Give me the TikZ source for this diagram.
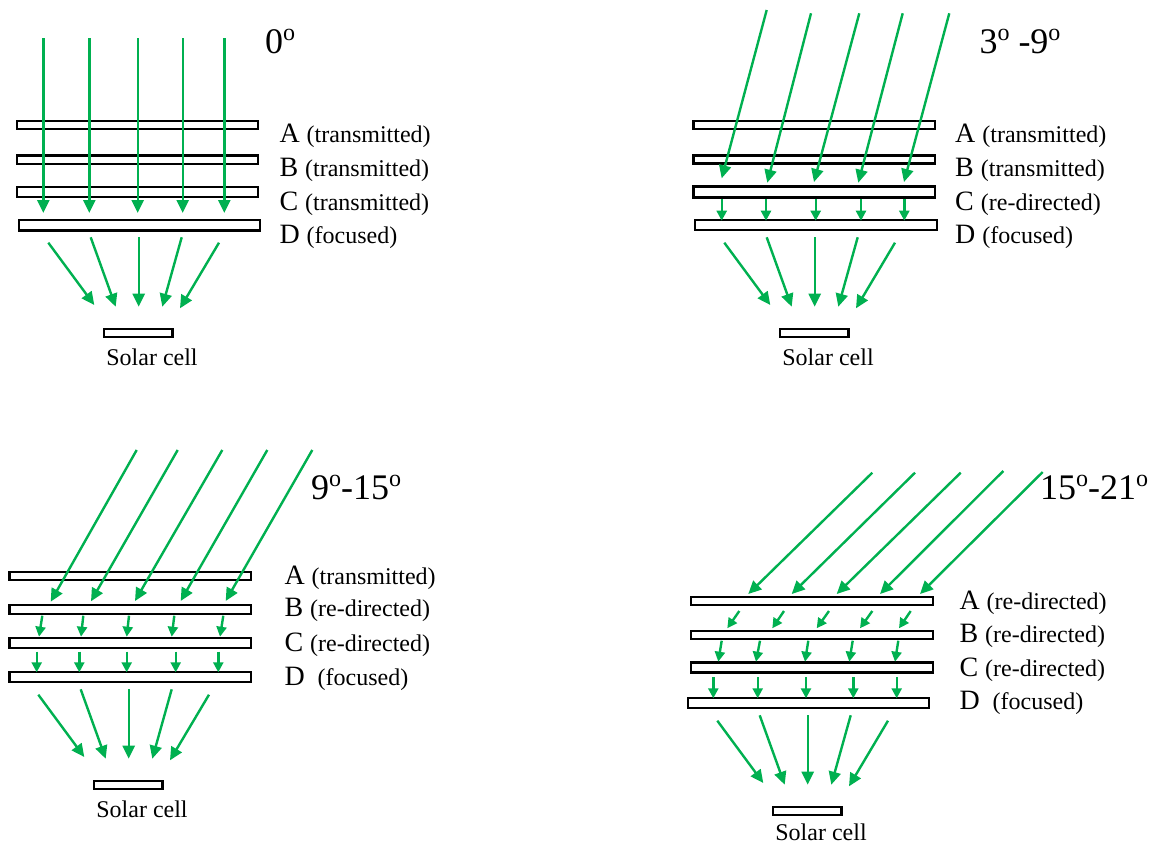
\documentclass[tikz,border=0pt]{standalone}
\usepackage{fontspec}
\setmainfont{Liberation Serif}
\usetikzlibrary{arrows.meta}
\definecolor{ray}{RGB}{0,176,80}
\tikzset{
  plate/.style={draw=black,line width=2.5pt,fill=white},
  cellbox/.style={draw=black,line width=2.2pt,fill=white},
  longray/.style={draw=ray,line width=2.4pt,-{Triangle[length=13pt,width=12pt]}},
  shortray/.style={draw=ray,line width=2.4pt,-{Triangle[length=10pt,width=10pt]}},
  big/.style={inner sep=0pt,anchor=base west,font=\fontsize{28}{32}\selectfont},
  title/.style={inner sep=0pt,anchor=base west,font=\fontsize{36}{40}\selectfont},
  celltext/.style={inner sep=0pt,anchor=base,font=\fontsize{24}{28}\selectfont}
}
\newcommand{\smalltxt}[1]{{\fontsize{24}{28}\selectfont #1}}
\newcommand{\supo}{\raisebox{12.5pt}{\fontsize{24}{28}\selectfont o}}
\newcommand{\FocusGroup}[2]{%
  \draw[longray] (48.3,242.7) -- (94.3,305);
  \draw[longray] (90.7,237.3) -- (115.7,306.7);
  \draw[longray] (138.7,237) -- (138.7,306.7);
  \draw[longray] (181.7,237.3) -- (162.3,306.7);
  \draw[longray] (219,242.7) -- (180,308.3);
  \draw[cellbox] (104,329.2) rectangle (172.5,336.8);
  \node[celltext] (cell#1) at (152,#2) {Solar cell};
}
\begin{document}
\begin{tikzpicture}[x=1pt,y=-1pt]
\useasboundingbox (0,0) rectangle (1152,846);

% ---------------- Panel 1 : 0 deg ----------------
\draw[plate] (17.2,121.2) rectangle (258,128.8);
\draw[plate] (17.2,155.5) rectangle (258,163.8);
\draw[plate] (17.2,187) rectangle (258,197);
\draw[plate] (19,220.2) rectangle (260,230.5);
\foreach \x in {43.3,89.3,137.7,182.7,224.3}
  \draw[longray] (\x,38) -- (\x,213);
\FocusGroup{1}{365.5}
\node[title] (t1) at (265,53.3) {0\supo};
\node[big] (a1) at (279.3,142.5) {A \smalltxt{(transmitted)}};
\node[big] (b1) at (279.3,176) {B \smalltxt{(transmitted)}};
\node[big] (c1) at (279.3,210) {C \smalltxt{(transmitted)}};
\node[big] (d1) at (279.3,243.5) {D \smalltxt{(focused)}};

% ---------------- Panel 2 : 3-9 deg ----------------
\draw[plate] (693.5,121.2) rectangle (934.8,128.8);
\draw[plate] (693.5,155.3) rectangle (934.8,163.5);
\draw[plate] (693.5,186.5) rectangle (934.8,197.5);
\draw[plate] (695.2,220) rectangle (937,230);
\draw[longray] (766.7,10) -- (721.7,178.3);
\draw[longray] (811,13.3) -- (767.3,182.7);
\draw[longray] (859.3,13.3) -- (814,182);
\draw[longray] (902.7,13.3) -- (858.3,182.7);
\draw[longray] (949.3,13.3) -- (904,182);
\foreach \x in {721.7,766,815.7,861,904.3}
  \draw[shortray] (\x,199.3) -- (\x,220.7);
\begin{scope}[shift={(676,0)}]
\FocusGroup{2}{365.5}
\end{scope}
\node[title] (t2) at (979.3,53.3) {3\supo\ -9\supo};
\node[big] (a2) at (955,142.5) {A \smalltxt{(transmitted)}};
\node[big] (b2) at (955,176) {B \smalltxt{(transmitted)}};
\node[big] (c2) at (955,210) {C \smalltxt{(re-directed)}};
\node[big] (d2) at (955,243.5) {D \smalltxt{(focused)}};

% ---------------- Panel 3 : 9-15 deg ----------------
\draw[plate] (9.5,572.2) rectangle (251,580);
\draw[plate] (9.5,605.2) rectangle (251,613.8);
\draw[plate] (9.5,638) rectangle (251,647.8);
\draw[plate] (9.5,672.2) rectangle (251,682);
\draw[longray] (136.7,450) -- (50.7,601.7);
\draw[longray] (177.7,450) -- (91,601.3);
\draw[longray] (222.3,450) -- (135,601);
\draw[longray] (267.3,450) -- (180.7,601);
\draw[longray] (312.3,450) -- (225.7,601);
\draw[shortray] (42.3,615.7) -- (39,636.7);
\draw[shortray] (83.3,615.7) -- (81,636.7);
\draw[shortray] (129,615.7) -- (126.7,636.7);
\draw[shortray] (174.3,615.7) -- (171.7,636.7);
\draw[shortray] (223.3,615.7) -- (220,636.7);
\foreach \x in {36.7,79.3,126.7,175.7,218.3}
  \draw[shortray] (\x,651.7) -- (\x,672.3);
\begin{scope}[shift={(-10,452)}]
\FocusGroup{3}{365}
\end{scope}
\node[title] (t3) at (311,499.3) {9\supo-15\supo};
\node[big] (a3) at (284.3,584.3) {A \smalltxt{(transmitted)}};
\node[big] (b3) at (284.3,616.7) {B \smalltxt{(re-directed)}};
\node[big] (c3) at (284.3,651.7) {C \smalltxt{(re-directed)}};
\node[big] (d3) at (284.3,685) {D \smalltxt{\ (focused)}};

% ---------------- Panel 4 : 15-21 deg ----------------
\draw[plate] (691.2,597) rectangle (932.8,605);
\draw[plate] (691.2,631.2) rectangle (932.8,639);
\draw[plate] (691.2,662.5) rectangle (932.8,672.5);
\draw[plate] (688,698.2) rectangle (928.8,708);
\draw[longray] (872.3,472.7) -- (748.3,594);
\draw[longray] (915,472.7) -- (791.7,594);
\draw[longray] (960.7,472.7) -- (836.7,594);
\draw[longray] (1003.3,471) -- (880,594);
\draw[longray] (1042.7,472) -- (920,594);
\draw[shortray] (739.3,611) -- (727.3,628.3);
\draw[shortray] (784,611) -- (772.3,628.3);
\draw[shortray] (829,611) -- (816.7,628.3);
\draw[shortray] (872.3,611) -- (860,628.3);
\draw[shortray] (910.7,611) -- (899,628.3);
\draw[shortray] (721.7,640.7) -- (718.3,661.7);
\draw[shortray] (760,640.7) -- (756,661.7);
\draw[shortray] (808.3,640.7) -- (805,661.7);
\draw[shortray] (852.7,640.7) -- (849.3,661.7);
\draw[shortray] (898.3,640.7) -- (895,661.7);
\foreach \x in {713.3,757.7,806,853.3,896.7}
  \draw[shortray] (\x,677.3) -- (\x,698.3);
\begin{scope}[shift={(669,478)}]
\FocusGroup{4}{362.5}
\end{scope}
\node[title] (t4) at (1040,499.3) {15\supo-21\supo};
\node[big] (a4) at (959.3,609) {A \smalltxt{(re-directed)}};
\node[big] (b4) at (959.3,642.7) {B \smalltxt{(re-directed)}};
\node[big] (c4) at (959.3,676) {C \smalltxt{(re-directed)}};
\node[big] (d4) at (959.3,709.3) {D \smalltxt{\ (focused)}};
\end{tikzpicture}
\end{document}
